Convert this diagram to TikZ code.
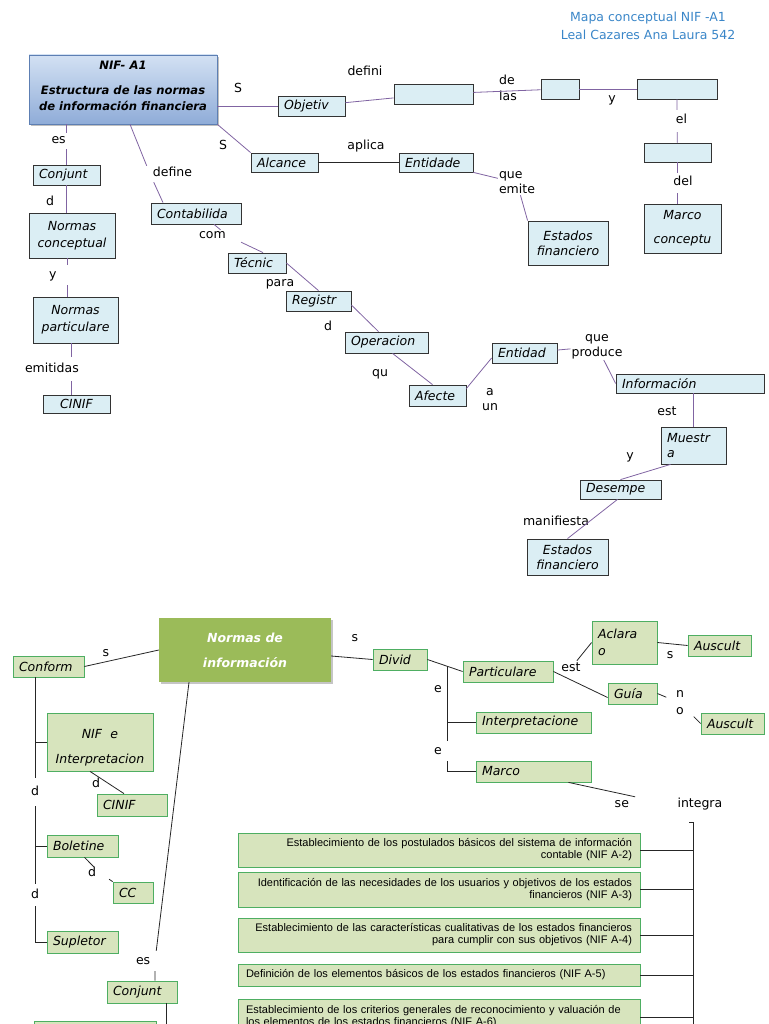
\documentclass[tikz,border=0pt]{standalone}
\usepackage{fontspec}
\setmainfont{DejaVu Sans}
\newfontfamily\arialf{Liberation Sans}
\usetikzlibrary{shadows}
\definecolor{boxblue}{HTML}{DBEEF4}
\definecolor{boxgreen}{HTML}{D7E4BD}
\definecolor{greenedge}{HTML}{4EAE62}
\definecolor{linkpurple}{HTML}{8064A2}
\definecolor{titleblue}{HTML}{3A86C8}
\definecolor{normgreen}{HTML}{9BBB59}
\definecolor{niftop}{HTML}{D3E1F3}
\definecolor{nifbot}{HTML}{8FACD8}
\definecolor{nifedge}{HTML}{5D7FB3}
\newcommand\mapfs{\fontsize{12.5}{15}\selectfont}
\tikzset{
	cbox/.style={draw=black!80, fill=boxblue, line width=0.8pt, font=\mapfs\itshape, inner xsep=6pt, inner ysep=0pt, align=left},
	gbox/.style={cbox, draw=greenedge, fill=boxgreen},
	longbox/.style={gbox, font=\arialf\fontsize{11}{12}\selectfont, text width=386pt, inner xsep=8pt, minimum height=#1},
	mainbox/.style={draw=nifedge, line width=0.6pt, top color=niftop, bottom color=nifbot, drop shadow={shadow xshift=2pt, shadow yshift=-2pt, fill=black!50}},
	maintxt/.style={font=\fontsize{11.6}{16}\selectfont\bfseries\itshape, align=center},
	normbox/.style={fill=normgreen, text=white, font=\mapfs\bfseries\itshape, align=center, drop shadow={shadow xshift=2pt, shadow yshift=-2pt, fill=black!45}},
	lbl/.style={font=\mapfs, inner sep=1pt, text height=9pt, text depth=3pt},
	mlbl/.style={font=\mapfs, inner sep=1pt, align=center},
	lnk/.style={draw=linkpurple, line width=0.8pt},
	blk/.style={draw=black!85, line width=0.8pt},
	titletxt/.style={font=\fontsize{12.5}{18}\selectfont, text=titleblue, align=center}
}
\begin{document}
\begin{tikzpicture}[x=1pt, y=-1pt]
	\useasboundingbox (0,0) rectangle (768,1024);
	\clip (0,0) rectangle (768,1024);
	\node[titletxt] (title) at (648,26) {Mapa conceptual NIF -A1\\Leal Cazares Ana Laura 542};

	\node[mainbox, minimum width=188pt, minimum height=69pt] (nif) at (123,89.5) {};
	\node[maintxt] (niftxt) at (123,85.5) {NIF- A1\\[9pt]Estructura de las normas\\de información financiera};
	\node[cbox, text width=55pt, minimum height=20pt] (obj) at (311.5,106) {Objetiv};
	\node[cbox, minimum width=79pt, minimum height=20pt] (dfn) at (433.5,94) {};
	\node[cbox, minimum width=38pt, minimum height=20pt] (lsa) at (560,89) {};
	\node[cbox, minimum width=80pt, minimum height=20pt] (ybx) at (677,89) {};
	\node[cbox, minimum width=67pt, minimum height=19pt] (elbx) at (677.5,152.5) {};
	\node[cbox, text width=65pt, minimum height=49pt, align=center] (mco) at (682.5,228.5) {Marco\\[9pt]conceptu};
	\node[cbox, text width=55pt, minimum height=19pt] (alc) at (284.5,162.5) {Alcance};
	\node[cbox, text width=62pt, minimum height=19pt] (ent1) at (436,162.5) {Entidade};
	\node[cbox, text width=68pt, minimum height=44pt, align=center] (est1) at (568,243) {Estados\\financiero};
	\node[cbox, text width=55pt, minimum height=20pt] (conj) at (66.5,175) {Conjunt};
	\node[cbox, text width=74pt, minimum height=45pt, align=center] (conc) at (72,235.5) {Normas\\[2pt]conceptual};
	\node[cbox, text width=73pt, minimum height=46pt, align=center] (part) at (75.5,320) {Normas\\[2pt]particulare};
	\node[cbox, text width=55pt, minimum height=18pt, align=center] (cinif) at (76.5,404) {CINIF};
	\node[cbox, text width=78pt, minimum height=21pt] (cont) at (196,213.5) {Contabilida};
	\node[cbox, text width=46pt, minimum height=20pt] (tec) at (257,263) {Técnic};
	\node[cbox, text width=53pt, minimum height=20pt] (reg) at (318.5,301) {Registr};
	\node[cbox, text width=71pt, minimum height=21pt] (oper) at (386.5,342.5) {Operacion};
	\node[cbox, text width=45pt, minimum height=21pt] (afe) at (437.5,395.5) {Afecte};
	\node[cbox, text width=53pt, minimum height=20pt] (ent2) at (524.5,353) {Entidad};
	\node[cbox, text width=136pt, minimum height=19pt] (info) at (690,383.5) {Información};
	\node[cbox, text width=53pt, minimum height=37pt] (mues) at (693.5,445.5) {Muestr\\a};
	\node[cbox, text width=69pt, minimum height=19pt] (des) at (620.5,489.5) {Desempe};
	\node[cbox, text width=69pt, minimum height=36pt, align=center] (est2) at (567.5,557) {Estados\\financiero};

	\node[lbl] (s1) at (238,90) {S};
	\node[lbl] (defini) at (365,73) {defini};
	\node[lbl] (de) at (507,82) {de};
	\node[lbl] (las) at (508,98) {las};
	\node[lbl] (y1) at (612,100) {y};
	\node[lbl, inner ysep=5pt, text width=20pt, align=right] (el) at (677,121) {el};
	\node[lbl, inner ysep=4pt, text width=30pt, align=right] (del) at (677.5,183) {del};
	\node[lbl] (s2) at (223,147) {S};
	\node[lbl] (aplica) at (366,147) {aplica};
	\node[mlbl, align=left] (qemite) at (517,183) {que\\emite};
	\node[lbl, inner ysep=2pt, text width=30pt, align=left] (es1) at (66.5,141) {es};
	\node[lbl] (d1) at (50,203) {d};
	\node[lbl, inner ysep=4pt, text width=36pt, align=left] (y2) at (67,275) {y};
	\node[lbl, inner ysep=6pt, text width=92pt, align=left] (emit) at (71,369) {emitidas};
	\node[lbl, inner ysep=2pt, text width=84pt, align=right] (define) at (150,174) {define};
	\node[lbl, inner ysep=0pt, text width=58pt, align=left] (com) at (228,236) {com};
	\node[lbl] (para) at (280,283) {para};
	\node[lbl] (d2) at (328,327) {d};
	\node[lbl] (qu) at (380,373) {qu};
	\node[mlbl] (aun) at (490,400) {a\\un};
	\node[mlbl] (qprod) at (597,346.5) {que\\produce};
	\node[lbl] (est3) at (667,412) {est};
	\node[lbl] (y3) at (630,456) {y};
	\node[lbl] (manif) at (556,522) {manifiesta};

	\draw[lnk] (nif.east |- obj) -- (obj.west);
	\draw[lnk] (obj) -- (dfn);
	\draw[lnk] (dfn) -- (lsa);
	\draw[lnk] (lsa) -- (ybx);
	\draw[lnk] (ybx) -- (el) -- (elbx);
	\draw[lnk] (elbx) -- (del) -- (del |- mco.north);
	\draw[lnk] (nif.south east) -- (alc.north west);
	\draw[blk] (alc) -- (ent1);
	\draw[lnk] (ent1.south east) -- (qemite) -- (est1.north west);
	\draw[lnk] (nif.south -| conj) -- (es1) -- (conj);
	\draw[lnk] (conj) -- (conj |- conc.north);
	\draw[lnk] (conc.south -| y2) -- (y2) -- (y2 |- part.north);
	\draw[lnk] (part.south -| emit) -- (emit) -- (emit |- cinif.north);
	\draw[lnk] ([xshift=7pt]nif.south) -- (define) -- ([xshift=-33pt]cont.north);
	\draw[lnk] ([xshift=18pt]cont.south) -- (com) -- ([xshift=6pt]tec.north);
	\draw[lnk] (tec.east) -- (reg.north);
	\draw[lnk] ([yshift=-4pt]reg.east) -- ([xshift=-8pt]oper.north);
	\draw[lnk] ([xshift=6pt]oper.south) -- ([xshift=-5pt]afe.north);
	\draw[lnk] ([yshift=7pt]afe.east) -- ([yshift=-5pt]ent2.west);
	\draw[lnk] (ent2) -- (qprod) -- (info.west);
	\draw[lnk] (mues.north |- info.south) -- (mues.north);
	\draw[lnk] ([xshift=-23pt]mues.south) -- (des.north);
	\draw[lnk] ([xshift=-3pt]des.south) -- (est2.north);

	\node[normbox, minimum width=172pt, minimum height=64pt] (nor) at (245,650) {Normas de\\[10pt]información};
	\node[gbox, text width=59pt, minimum height=21pt] (conf) at (48.5,666.5) {Conform};
	\node[gbox, text width=94pt, minimum height=58pt, align=center, text depth=16pt] (nife) at (100,742) {NIF\ \ e\\[10pt]Interpretacion};
	\node[gbox, text width=58pt, minimum height=22pt] (cinif2) at (132,805) {CINIF};
	\node[gbox, text width=59pt, minimum height=22pt] (bol) at (82.5,846) {Boletine};
	\node[gbox, text width=28pt, minimum height=21pt] (cc) at (133,892.5) {CC};
	\node[gbox, text width=59pt, minimum height=22pt] (sup) at (82.5,942) {Supletor};
	\node[gbox, text width=58pt, minimum height=22pt] (conj2) at (142,992) {Conjunt};
	\node[gbox, minimum width=122pt, minimum height=24pt] (botbx) at (95,1033) {};
	\node[gbox, text width=42pt, minimum height=21pt] (div) at (400,659.5) {Divid};
	\node[gbox, text width=78pt, minimum height=21pt] (parti) at (508,671.5) {Particulare};
	\node[gbox, text width=103pt, minimum height=21pt] (interp) at (533.5,722.5) {Interpretacione};
	\node[gbox, text width=103pt, minimum height=21pt] (marco) at (533.5,771.5) {Marco};
	\node[gbox, text width=53pt, minimum height=43pt] (acl) at (624.5,642.5) {Aclara\\[2pt]o};
	\node[gbox, text width=51pt, minimum height=21pt] (aus1) at (719.5,645.5) {Auscult};
	\node[gbox, text width=37pt, minimum height=21pt] (guia) at (632.5,693.5) {Guía};
	\node[gbox, text width=51pt, minimum height=21pt] (aus2) at (732.5,723.5) {Auscult};
	\node[longbox=34pt, align=right] (b1) at (439,850) {Establecimiento de los postulados básicos del sistema de información\\contable (NIF A-2)};
	\node[longbox=35pt, align=right] (b2) at (439,889.5) {Identificación de las necesidades de los usuarios y objetivos de los estados\\financieros (NIF A-3)};
	\node[longbox=34pt, align=right] (b3) at (439,935) {Establecimiento de las características cualitativas de los estados financieros\\para cumplir con sus objetivos (NIF A-4)};
	\node[longbox=22pt, align=left] (b4) at (439,975) {Definición de los elementos básicos de los estados financieros (NIF A-5)};
	\node[longbox=36pt, align=left] (b5) at (439,1017) {Establecimiento de los criterios generales de reconocimiento y valuación de\\los elementos de los estados financieros (NIF A-6)};

	\node[lbl] (s3) at (106,653) {s};
	\node[lbl, inner ysep=8pt] (d3) at (35,792) {d};
	\node[lbl, inner ysep=5pt] (d4) at (35,895) {d};
	\node[lbl] (d5) at (96,784) {d};
	\node[lbl, inner ysep=0pt, text width=24pt, align=left] (d6) at (100,873) {d};
	\node[lbl, inner ysep=4pt, text width=38pt, align=left] (es2) at (155,961) {es};
	\node[lbl] (s4) at (355,638) {s};
	\node[lbl] (e1) at (438,689) {e};
	\node[lbl, inner ysep=4pt, text width=26pt, align=left] (e2) at (447,751) {e};
	\node[lbl] (est4) at (571,668) {est};
	\node[lbl] (s5) at (670,655) {s};
	\node[mlbl, minimum width=27pt, minimum height=30pt] (no) at (680,703) {n\\[2pt]o};
	\node[lbl] (seint) at (668.5,804) {se\hspace{48.6pt}integra};
	\coordinate (cut) at (166,1030);
	\coordinate (jn) at (447,666);
	\coordinate (brT) at (693,822);
	\coordinate (brB) at (693,1030);

	\draw[blk] (nor.west) -- (conf.east);
	\draw[blk] (d3 |- conf.south) -- (d3) -- (d4) -- (d4 |- sup) -- (sup.west);
	\draw[blk] (d3 |- nife) -- (nife.west);
	\draw[blk] (d3 |- bol) -- (bol.west);
	\draw[blk] ([xshift=-10pt]nife.south) -- ([xshift=-8pt]cinif2.north);
	\draw[blk] ([xshift=2pt]bol.south) -- (d6) -- (cc.north west);
	\draw[blk] ([xshift=-56pt]nor.south) -- (es2) -- (es2 |- conj2.north);
	\draw[blk] ([xshift=24pt]conj2.south) -- (cut);
	\draw[blk] ([yshift=-6pt]nor.east) -- (div.west);
	\draw[blk] (div.east) -- (parti.west);
	\draw[blk] (jn) -- (e2) -- (e2 |- marco) -- (marco.west);
	\draw[blk] (e2 |- interp) -- (interp.west);
	\draw[blk] (parti.east) -- ([yshift=-4pt]guia.west);
	\draw[blk] (est4) -- (acl.west);
	\draw[blk] (acl.east) -- (aus1.west);
	\draw[blk] (guia.east) -- (no) -- (aus2.west);
	\draw[blk] ([xshift=35pt]marco.south) -- (seint);
	\draw[blk] ([xshift=-4pt]brT) -- (brT) -- (brB);
	\draw[blk] (b1.east) -- (b1.east -| brT) (b2.east) -- (b2.east -| brT) (b3.east) -- (b3.east -| brT) (b4.east) -- (b4.east -| brT) (b5.east) -- (b5.east -| brT);
\end{tikzpicture}
\end{document}
